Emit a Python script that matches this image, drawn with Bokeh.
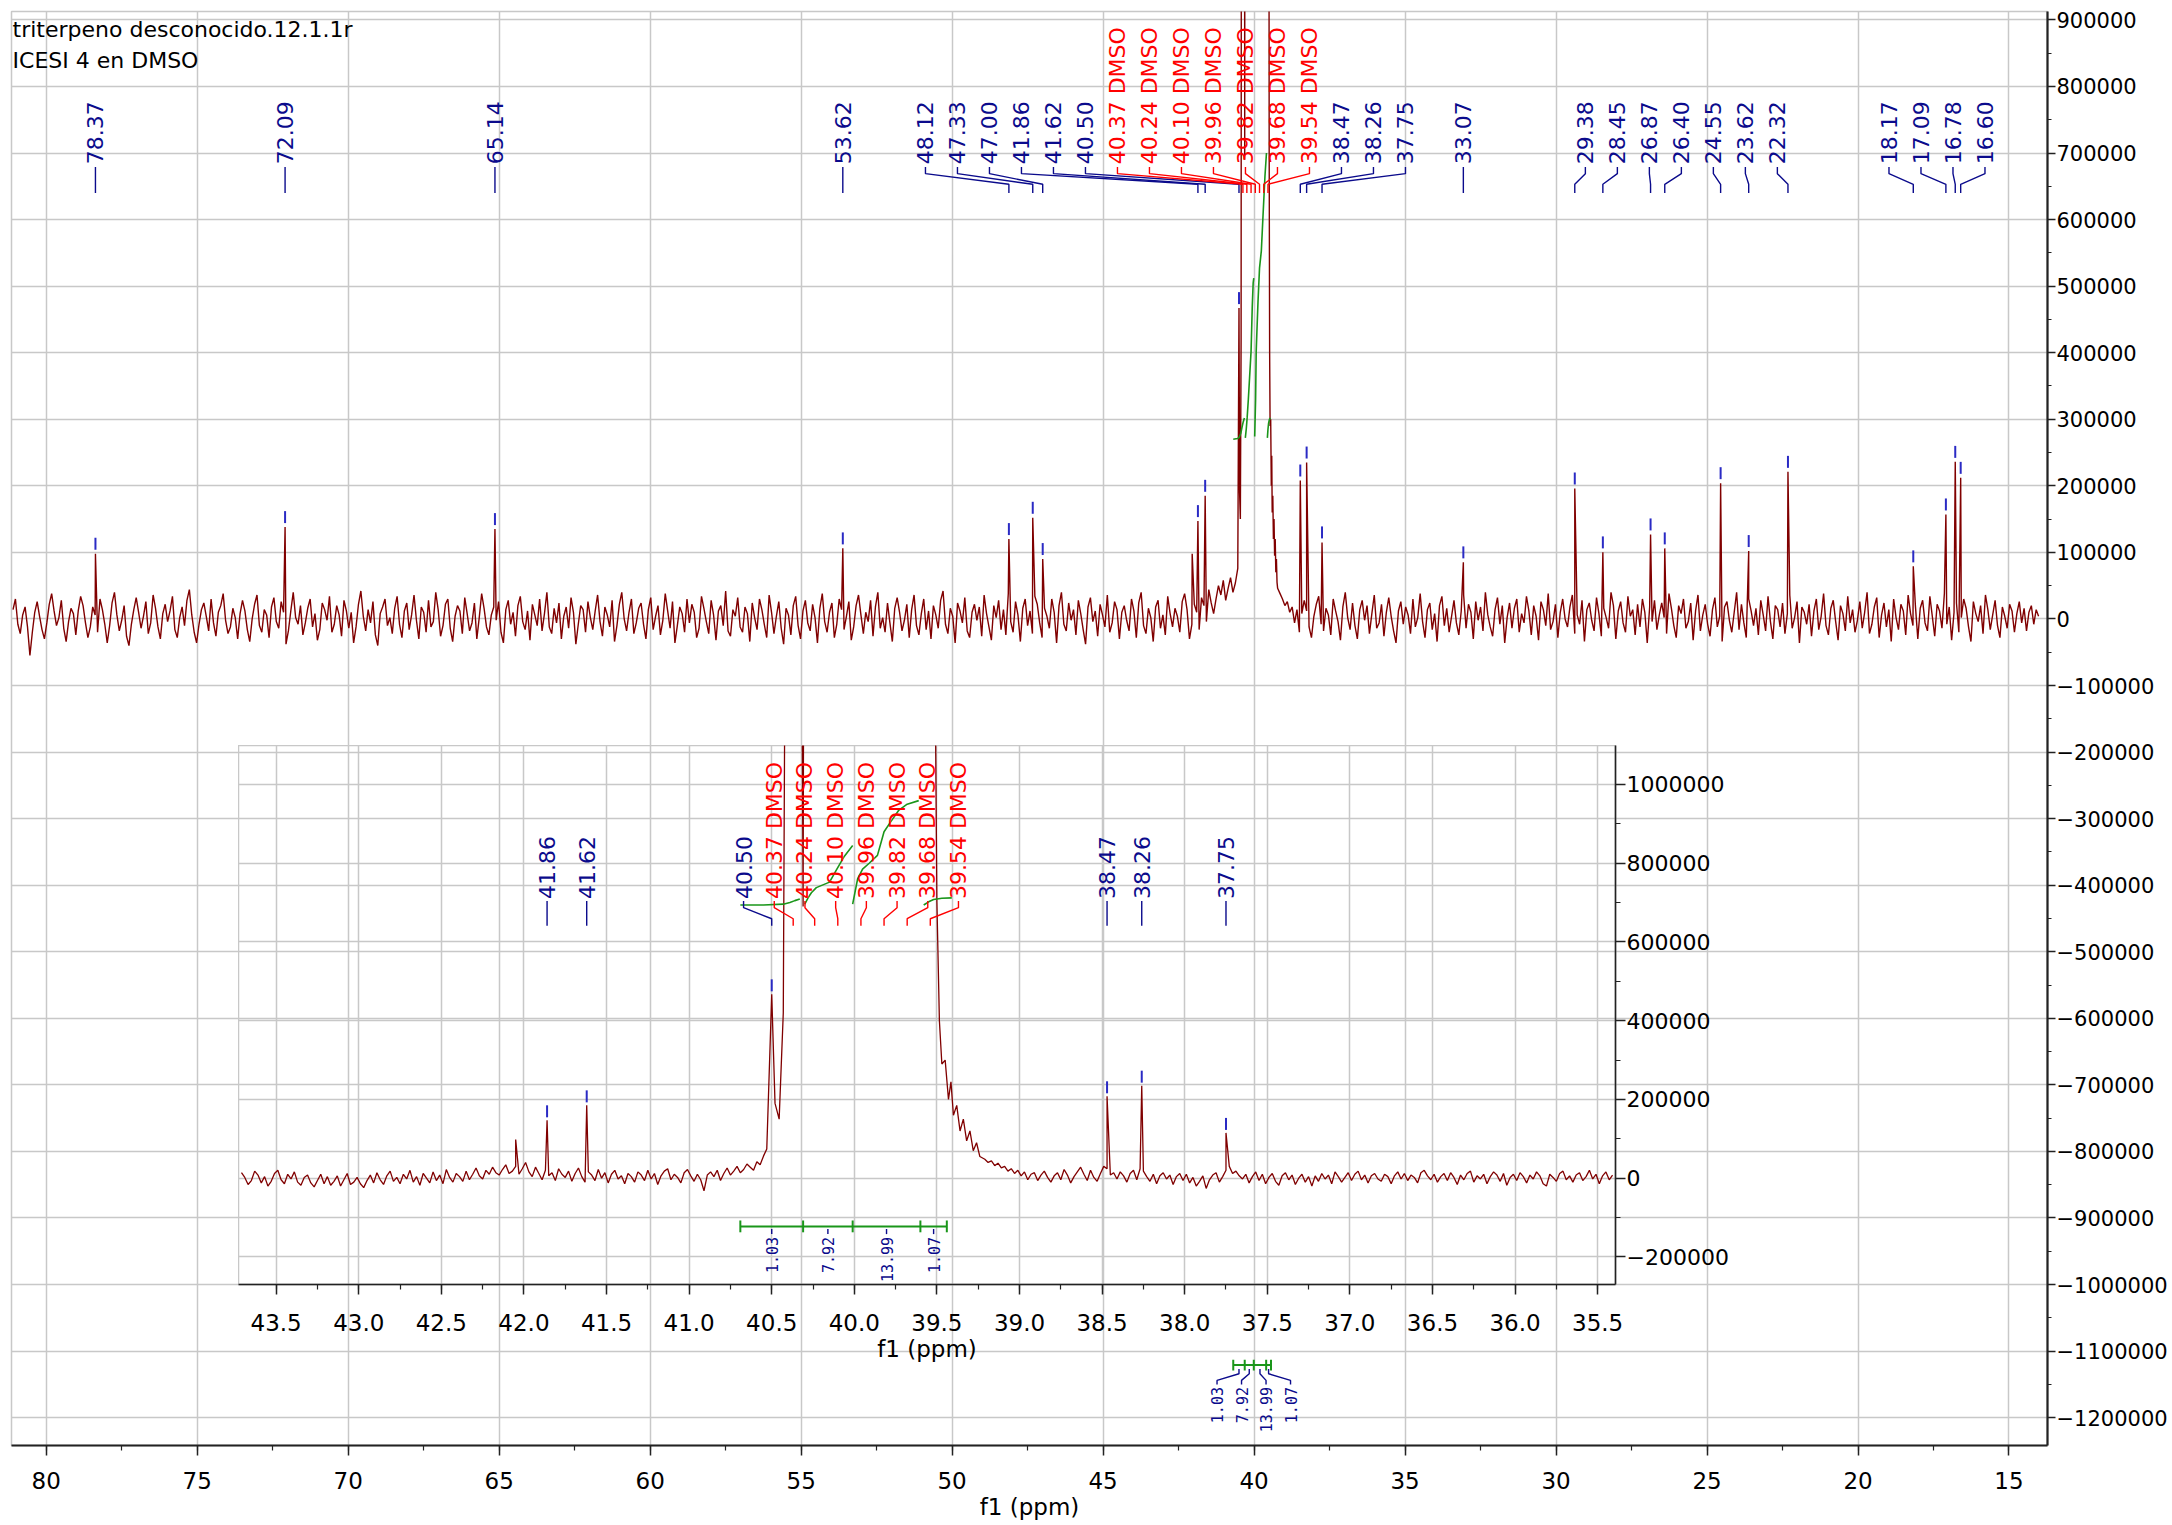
import numpy as np
from bokeh.plotting import figure
from bokeh.models import (Range1d, SingleIntervalTicker, BasicTickFormatter,
                          PrintfTickFormatter, GridBox, Label, ColumnDataSource)
from bokeh.core.properties import value
from bokeh.embed import file_html
from bokeh.resources import INLINE

# ----------------------------------------------------------------- data
title_lines = ["triterpeno desconocido.12.1.1r", "ICESI 4 en DMSO"]

peak_ppm = [78.37, 72.09, 65.14, 53.62, 48.12, 47.33, 47.00, 41.86, 41.62, 40.50,
            38.47, 38.26, 37.75, 33.07, 29.38, 28.45, 26.87, 26.40, 24.55, 23.62,
            22.32, 18.17, 17.09, 16.78, 16.60]
peak_height = [98000, 138000, 135000, 106000, 120000, 152000, 90000, 147000, 185000, 467000,
               208000, 235000, 115000, 85000, 196000, 100000, 127000, 106000, 204000, 102000,
               221000, 79000, 157000, 236000, 212000]

dmso_label_ppm = [40.37, 40.24, 40.10, 39.96, 39.82, 39.68, 39.54]

extra_ppm = [42.05]
extra_height = [98000]

# solvent (DMSO-d6) septet region, read as profile points
dmso_ppm = [40.48, 40.455, 40.43, 40.41, 40.37, 40.31, 40.24, 40.17, 40.10, 40.03,
            39.96, 39.89, 39.82, 39.75, 39.68, 39.61, 39.54, 39.515, 39.50, 39.485,
            39.47, 39.45, 39.43, 39.415, 39.40, 39.38, 39.36, 39.34, 39.32, 39.30,
            39.28, 39.26, 39.24]
dmso_int = [190000, 150000, 420000, 2200000, 6000000, 690000, 14000000, 9000000, 21000000, 15000000,
            24000000, 16000000, 21000000, 13000000, 14000000, 7000000, 6000000, 1500000, 700000, 400000,
            290000, 300000, 200000, 245000, 160000, 185000, 120000, 150000, 95000, 120000,
            70000, 90000, 55000]

integral_start = [40.69, 40.31, 40.01, 39.60]
integral_end = [40.31, 40.01, 39.60, 39.44]
integral_value = [1.03, 7.92, 13.99, 1.07]

main_integral_ppm = [
    [40.69, 40.55, 40.49, 40.44, 40.40, 40.36, 40.32],
    [40.29, 40.26, 40.23, 40.19, 40.15, 40.10, 40.06, 40.03, 40.01],
    [39.98, 39.95, 39.93, 39.90, 39.87, 39.82, 39.76, 39.70, 39.64, 39.59],
    [39.56, 39.54, 39.52, 39.49, 39.46]]
main_integral_val = [
    [270000, 271000, 273000, 279000, 288000, 296000, 302000],
    [272000, 285000, 302000, 330000, 362000, 402000, 470000, 505000, 512000],
    [274000, 330000, 402000, 440000, 477000, 527000, 553000, 610000, 665000, 700000],
    [272000, 285000, 294000, 300000, 302000]]

inset_integral_ppm = [
    [40.69, 40.55, 40.43, 40.39, 40.36, 40.33],
    [40.30, 40.28, 40.26, 40.23, 40.19, 40.15, 40.11, 40.06, 40.01],
    [40.01, 39.98, 39.95, 39.91, 39.86, 39.82, 39.78, 39.73, 39.68, 39.61],
    [39.58, 39.55, 39.52, 39.47, 39.41]]
inset_integral_val = [
    [694000, 694000, 696000, 700000, 705000, 709000],
    [696000, 712000, 725000, 738000, 745000, 752000, 782000, 818000, 845000],
    [696000, 760000, 785000, 800000, 820000, 880000, 905000, 935000, 950000, 959000],
    [694000, 702000, 708000, 711000, 712000]]

# baseline noise, in thousands
# main panel: 81.10 -> 40.54 ppm and 39.22 -> 14.02 ppm
main_noise_left_k = [
    14, 30, -8, -22, 6, 18, -12, -55, -20, 10, 26, 4, -16, -30, -6, 22, 38, 12, -10, 2,
    28, -14, -34, -4, 16, 8, -24, 12, 34, 20, -6, -28, -12, 18, 6, -20, 30, 14, -8, -36,
    -10, 24, 40, 6, -18, -2, 20, -26, -40, -8, 14, 32, 10, -14, 4, 26, -22, -6, 36, 16,
    -12, -30, 8, 22, -4, 12, 34, -16, -28, 2, 18, -10, 28, 44, 6, -20, -36, -8, 14, 24,
    4, -18, 30, -6, -26, 10, 20, 38, -2, -22, -12, 16, 2, -30, 8, 28, 12, -16, -34, 0,
    22, 36, -10, -20, 14, 6, -28, 18, 32, -4, -14, 26, 10, -38, -18, 12, 40, 2, -8, 20,
    -24, -6, 16, 30, -12, 8, -32, -16, 24, 14, -2, 34, -20, -8, 20, 6, -26, 28, 12, -14,
    10, -36, -12, 22, 42, 4, -18, 14, -6, 26, -24, -40, 8, 18, 30, -10, 2, -22, 16, 34,
    -8, -28, 12, 24, -16, 6, 36, -2, -30, 18, 10, -20, 28, -12, -4, 40, 14, -26, -10, 22,
    30, -14, -34, 4, 20, 12, -22, 32, 8, -18, -6, 24, -30, 2, 38, 16, -12, -24, 6, 18,
    -2, 26, -20, -36, 14, 28, -8, 10, -26, 20, 34, -4, -16, 12, -32, 22, 6, -10, 30, -18,
    8, 40, -12, -22, 16, -6, 24, -30, 4, 18, -14, 32, 10, -38, -8, 20, 14, -20, 26, 2,
    -16, 12, 36, -4, -26, 18, 6, -12, 28, -34, -10, 22, 40, 0, -18, 10, 30, -22, -6, 16,
    24, -8, -30, 14, 32, -16, 4, 20, -24, -2, 38, 12, -14, 26, -36, -10, 18, 8, -20, 30,
    -6, 22, 10, -28, -14, 34, 16, -4, -22, 28, 6, -32, 12, 20, -10, 42, -18, -26, 14, 4,
    32, -12, -20, 18, 8, -34, 24, 2, -16, 30, 14, -8, -28, 36, 10, -22, 4, 26, -14, -38,
    16, 6, -24, 20, 34, -10, -30, 12, 28, -6, -18, 22, 2, -36, 16, 38, -4, -20, 10, 24,
    -28, -8, 30, 14, -16, 4, 26, -32, -12, 20, 36, 6, -22, 10, -4, 28, -26, 18, 40, -14,
    2, -20, 24, -6, -34, 16, 32, 10, -18, -2, 22, -28, 14, 36, -10, -24, 8, 30, -16, 12,
    -30, 20, 6, -14, 28, 42, -8, -22, 16, 4, -36, 24, 12, -6, 32, -18, -28, 10, 22, -2,
    18, -26, 36, 8, -12, -32, 20, 2, 28, -16, 14, -24, 38, -4, -20, 26, 6, -34, 16, 30,
    -10, 12, -22, 34, 22, -6, -28, 16, 4, -14, 30, 10, -36, 20, 40, -8, -18, 24, -2, 14,
    -24, 28, 8, -16, -38, 18, 32, -4, 12, -26, 22, 6, -12, 36, -20, -6, 26, 14, -30, 10,
    20, -2, -18, 30, 12, -28, 24, 40, -10, -22, 16, 2, -34, 18, 28, -14, 6, -24, 34, 8,
    -12, 16, 4, -20, 26, 38, 14, -30, -8, 22, 10, -16, 32, 20, -4, 44, 24, 8, 30, 50,
    36, 58, 28, 46, 62, 40, 54, 76]
main_noise_right_k = [
    46, 38, 30, 20, 26, 10, 18, -6, 14, -20, 8, 28, 12, -12, -28, 4, 22, 34, -8, -18,
    16, 6, -24, 30, 12, -4, -32, 18, 40, 2, -16, 24, -10, -30, 14, 28, -2, 20, -22, 8,
    36, -14, -6, 22, -26, 10, 32, 4, -18, -36, 12, 26, -8, 18, 6, -22, 30, -12, 2, 38,
    -4, -28, 14, 24, -16, 8, -34, 20, 34, -10, 16, -20, 4, 28, -6, -24, 12, 36, -14, 22,
    10, -30, 26, -2, 18, -18, 40, 6, -12, -26, 14, 32, -8, 20, -36, 2, 24, -14, 16, 30,
    -20, 8, -6, 34, 12, -24, 20, 4, -32, 26, 14, -10, 38, -16, -4, 22, -28, 10, 30, 0,
    -12, 18, 36, -22, 6, -8, 28, -34, 14, 24, -2, -18, 32, 8, -26, 16, 2, -14, 40, 20,
    -30, 12, 26, -6, -20, 34, 4, 14, -24, 22, -12, 30, 10, -36, 18, -4, 28, -16, 6, 24,
    2, -22, 38, 16, -10, -28, 20, 8, 30, -14, -4, 24, -32, 12, 36, -18, 6, 22, -8, -26,
    14, 32, -12, 4, -34, 18, 26, -2, -20, 10, 40, -16, 22, -6, -28, 30, 12, -10, 16, -24,
    28, 6, -18, 34, -4, -30, 20, 14, -12, 24, -22, 8, 36, -14, 2, 26, -36, 18, 10, -8,
    22, -26, 12, 30, -16, 4, 38, -10, -24, 16, 28, -4, -32, 20, 8, -18, 34, -6, 14, -20,
    -2, 26, -14, 10, 40, -22, -8, 18, 32, -28, 6, 24, -12, 14, -34, 30, 2, -16, 22, 12,
    -24, 36, 8, -10, 20, -30, 16, 28, -6, -18, 34, 4, -26, 22, 12, -14, 38, -8, 18, -32,
    10, 24, -20, 2, 30, 16, -12, -34, 26, 8, -4, 20, -22, 36, 14, -16, 6, 28, -10, -28,
    18, 4, -14, 22, 12, -20, 8, 26, -6, 16, -18, 10, 20, -8, 14, 4]
# inset panel: 43.75 -> 40.53 ppm and 39.21 -> 35.41 ppm
inset_noise_left_k = [
    6, -10, 14, 2, -16, -6, 18, 8, -12, 4, -20, -8, 12, 20, -4, -14, 10, -2, 16, -10,
    -18, 2, 8, -12, -22, -6, 10, -14, 4, -18, -8, 6, -20, -4, 12, -16, -10, 2, -14, -24,
    -6, 8, -12, 14, -4, -16, 6, 18, -8, 2, -14, 10, -2, 20, -10, 4, -18, 12, 0, -12,
    16, -6, 8, -14, 22, 2, -10, 12, 4, -8, 18, -4, 10, 26, 6, -2, 20, 10, 28, 14,
    8, 22, 34, 12, 18, 30, 10, 24, 40, 16, 4, 28, 12, -4, 20, 6, 14, -6, 24, 10,
    2, 18, -8, 12, 26, 4, -10, 16, 8, -6, 22, 0, 14, -12, 10, 20, -2, 6, -14, 12,
    4, -10, 16, 8, -6, 20, -2, 12, -16, 6, 18, 24, -4, 10, 2, -12, 14, 22, 6, -8,
    10, -4, -32, 8, 16, 4, 20, -6, 12, 26, 8, 18, 30, 14, 22, 36, 28, 20, 42, 34,
    56, 74]
inset_noise_right_k = [
    48, 40, 44, 32, 38, 26, 30, 18, 24, 12, 20, 6, 16, -4, 10, 14, -6, 8, 18, 2,
    -10, 6, 14, -4, 22, 8, -12, 4, 16, 28, 10, -6, 20, 2, -8, 12, 30, 24, 8, 14,
    -2, 16, 6, -10, 12, 20, -4, 24, 18, 4, -8, 10, -14, 6, 14, -2, 8, -16, 4, 12,
    -6, 10, -12, 2, -20, -8, 6, -26, -4, 8, 14, -10, 4, 20, 30, 12, 18, 6, -2, 10,
    -12, 4, 16, -6, 10, -14, 2, 12, -8, -18, 6, 14, -4, 8, -16, 0, 10, -10, 4, -20,
    6, -8, 12, -2, 8, -14, 16, 4, -10, 2, 14, -6, 10, 18, -4, 8, -12, 6, 12, -2,
    -8, 10, 4, -14, 6, 16, -2, 12, -6, 8, 2, -12, 14, 20, 6, -4, 10, -10, 4, 12,
    -6, 14, 2, -16, 8, -4, 12, 18, -10, 6, -2, 10, -14, 4, 16, 8, -8, 12, -18, 2,
    10, -6, 14, 4, -12, 8, -2, 16, 6, -14, -20, 10, 2, -8, 12, 18, -4, 6, -10, 8,
    14, -6, 4, 20, -2, 10, -14, 6, 16, -4, 8]

# ----------------------------------------------------------------- style / layout
FONT = "DejaVu Sans"
MONO = "DejaVu Sans Mono"
BLUE = "#0b0b8c"
MARK = "#2a2ac4"
RED = "#ff0000"
GREEN = "#1a961a"
SPEC = "#800000"
GRID = "#c8c8c8"
AXIS = "#222222"

MAIN_X = (81.15, 13.725)
MAIN_Y = (-1241800, 912600)
MAIN_FW, MAIN_FH = 2036, 1434
INS_X = (43.728, 35.392)
INS_Y = (-270000, 1099000)
INS_FW, INS_FH = 1377, 539
INS_LEFT, INS_TOP = 238, 745


def build_spectrum(parts, hi, lo):
    pts = []
    for a, b, vals in parts:
        xs = np.linspace(a, b, len(vals))
        pts += [(float(x), v * 1000.0) for x, v in zip(xs, vals)]
    pts += list(zip(dmso_ppm, dmso_int))
    pts += list(zip(peak_ppm, peak_height))
    pts += list(zip(extra_ppm, extra_height))
    pts = [p for p in pts if lo <= p[0] <= hi]
    pts.sort(key=lambda p: -p[0])
    return [p[0] for p in pts], [p[1] for p in pts]


def spread(ppms, x0, ppp, d, k):
    px = [(x0 - p) * ppp for p in ppms]
    clusters = [[i] for i in range(len(px))]

    def place(c):
        mid = (px[c[0]] + px[c[-1]]) / 2.0
        n = len(c)
        return [mid + (j - (n - 1) / 2.0) * d for j in range(n)]

    merged = True
    while merged:
        merged = False
        for j in range(len(clusters) - 1):
            a = place(clusters[j])
            b = place(clusters[j + 1])
            if b[0] - a[-1] < k * d:
                clusters[j] = clusters[j] + clusters[j + 1]
                del clusters[j + 1]
                merged = True
                break
    out = [0.0] * len(px)
    for c in clusters:
        for i, q in zip(c, place(c)):
            out[i] = x0 - q / ppp
    return out


def make_fig(xr, yr, fw, fh, left, top, transparent):
    f = figure(x_range=Range1d(*xr), y_range=Range1d(*yr),
               frame_width=fw, frame_height=fh,
               min_border_left=left, min_border_top=top,
               min_border_right=125, min_border_bottom=80,
               y_axis_location="right", title=None,
               output_backend="svg", toolbar_location=None)
    f.outline_line_color = GRID
    f.outline_line_width = 1.5
    if transparent:
        f.background_fill_color = None
        f.border_fill_color = None
    return f


def setup_axes(f, xint, yint, xfmt, axis_w, x_standoff, y_font, y_tick):
    xa = f.xaxis[0]
    ya = f.yaxis[0]
    xa.ticker = SingleIntervalTicker(interval=xint, num_minor_ticks=2)
    ya.ticker = SingleIntervalTicker(interval=yint, num_minor_ticks=2)
    xa.formatter = xfmt
    ya.formatter = BasicTickFormatter(use_scientific=False)
    f.xgrid[0].ticker = xa.ticker
    f.ygrid[0].ticker = ya.ticker
    for g in (f.xgrid[0], f.ygrid[0]):
        g.grid_line_color = GRID
        g.grid_line_width = 1.5
    for a in (xa, ya):
        a.axis_line_width = axis_w
        a.axis_line_color = AXIS
        a.major_tick_line_color = AXIS
        a.minor_tick_line_color = AXIS
        a.major_tick_line_width = 1.5
        a.minor_tick_line_width = 1.2
        a.major_tick_out = 10
        a.major_tick_in = 0
        a.minor_tick_out = 5
        a.minor_tick_in = 0
        a.major_label_text_font = FONT
        a.major_label_text_color = "#000000"
        a.axis_label_text_font = FONT
        a.axis_label_text_font_size = "23px"
        a.axis_label_text_font_style = "normal"
        a.axis_label_text_color = "#000000"
    xa.major_label_text_font_size = "23px"
    ya.major_label_text_font_size = y_font
    ya.major_tick_out = y_tick
    ya.minor_tick_out = y_tick // 2
    xa.axis_label = "f1 (ppm)"
    xa.major_label_standoff = x_standoff
    xa.axis_label_standoff = 2
    ya.major_label_standoff = 1


def draw_peak_labels(f, xr, fw, d, k, ys, text_y):
    lo, hi = min(xr), max(xr)
    items = [(p, "%.2f" % p, BLUE) for p in peak_ppm if lo <= p <= hi]
    items += [(p, "%.2f DMSO" % p, RED) for p in dmso_label_ppm if lo <= p <= hi]
    items.sort(key=lambda t: -t[0])
    ppms = [t[0] for t in items]
    ppp = fw / abs(xr[1] - xr[0])
    lab = spread(ppms, xr[0], ppp, d, k)
    src = ColumnDataSource(dict(
        xs=[[l, l, p, p] for l, p in zip(lab, ppms)],
        ys=[list(ys) for _ in ppms],
        c=[t[2] for t in items]))
    f.multi_line(xs="xs", ys="ys", line_color="c", line_width=1.4, source=src)
    tsrc = ColumnDataSource(dict(x=lab, y=[text_y] * len(lab),
                                 t=[t[1] for t in items], c=[t[2] for t in items]))
    f.text(x="x", y="y", text="t", text_color="c", angle=np.pi / 2,
           text_align="left", text_baseline="middle",
           text_font=value(FONT), text_font_size=value("22px"), source=tsrc)


def draw_markers(f, xr, gap, length):
    lo, hi = min(xr), max(xr)
    sel = [(p, h) for p, h in zip(peak_ppm, peak_height) if lo <= p <= hi]
    f.segment(x0=[p for p, h in sel], x1=[p for p, h in sel],
              y0=[h + gap for p, h in sel], y1=[h + gap + length for p, h in sel],
              line_color=MARK, line_width=2)


def draw_integral_bar(f, ybar, tick):
    f.segment(x0=[integral_start[0]], x1=[integral_end[-1]], y0=[ybar], y1=[ybar],
              line_color=GREEN, line_width=2)
    bounds = sorted(set(integral_start + integral_end), reverse=True)
    f.segment(x0=bounds, x1=bounds, y0=[ybar - tick] * len(bounds),
              y1=[ybar + tick] * len(bounds), line_color=GREEN, line_width=2)


# ----------------------------------------------------------------- main panel
p = make_fig(MAIN_X, MAIN_Y, MAIN_FW, MAIN_FH, 11, 11, False)
setup_axes(p, 5, 100000, BasicTickFormatter(), 2.2, 16, "21px", 8)

mx, my = build_spectrum([(81.10, 40.54, main_noise_left_k), (39.22, 14.02, main_noise_right_k)],
                        MAIN_X[0], MAIN_X[1])
p.line(mx, my, line_color=SPEC, line_width=1.4)

for xs_, ys_ in zip(main_integral_ppm, main_integral_val):
    p.line(xs_, ys_, line_color=GREEN, line_width=1.6)

draw_markers(p, MAIN_X, 6000, 18000)
draw_peak_labels(p, MAIN_X, MAIN_FW, 32.0, 1.7,
                 (679000, 669000, 653000, 640000), 683000)

# integral bar + labels (main)
draw_integral_bar(p, -1121000, 8000)
centers = [(a + b) / 2.0 for a, b in zip(integral_start, integral_end)]
ppp_main = MAIN_FW / abs(MAIN_X[1] - MAIN_X[0])
ilab = spread(centers, MAIN_X[0], ppp_main, 24.5, 1.0)
p.multi_line(xs=[[c, c, l, l] for c, l in zip(centers, ilab)],
             ys=[[-1127000, -1134000, -1144000, -1150000] for _ in centers],
             line_color=BLUE, line_width=1.4)
p.text(x=ilab, y=[-1154000] * len(ilab), text=["%.2f" % v for v in integral_value],
       angle=np.pi / 2, text_align="right", text_baseline="middle", text_color=BLUE,
       text_font=value(MONO), text_font_size=value("15px"))

for i, t in enumerate(title_lines):
    p.add_layout(Label(x=81.115, y=904000 - i * 45500, text=t, text_font=FONT,
                       text_font_size="22px", text_color="#000000",
                       text_align="left", text_baseline="top"))

# ----------------------------------------------------------------- inset panel
q = make_fig(INS_X, INS_Y, INS_FW, INS_FH, 0, 0, True)
setup_axes(q, 0.5, 200000, PrintfTickFormatter(format="%.1f"), 1.6, 19, "22px", 10)

ix, iy = build_spectrum([(43.75, 40.53, inset_noise_left_k), (39.21, 35.41, inset_noise_right_k)],
                        INS_X[0], INS_X[1])
q.line(ix, iy, line_color=SPEC, line_width=1.3)

for xs_, ys_ in zip(inset_integral_ppm, inset_integral_val):
    q.line(xs_, ys_, line_color=GREEN, line_width=1.6)

draw_markers(q, INS_X, 7600, 30500)
draw_peak_labels(q, INS_X, INS_FW, 30.7, 1.0,
                 (704000, 687000, 659000, 641000), 709000)

draw_integral_bar(q, -122400, 15000)
q.segment(x0=centers, x1=centers, y0=[-129000] * 4, y1=[-142000] * 4,
          line_color=BLUE, line_width=1.4)
q.text(x=centers, y=[-149000] * 4, text=["%.2f" % v for v in integral_value],
       angle=np.pi / 2, text_align="right", text_baseline="middle", text_color=BLUE,
       text_font=value(MONO), text_font_size=value("15px"))

# ----------------------------------------------------------------- overlay layout
layout = GridBox(children=[(p, 0, 0, 2, 2), (q, 1, 1)],
                 rows=["%dpx" % INS_TOP, "%dpx" % (1525 - INS_TOP)],
                 cols=["%dpx" % INS_LEFT, "%dpx" % (2172 - INS_LEFT)],
                 spacing=0)

open("out.html", "w").write(file_html(layout, INLINE))
